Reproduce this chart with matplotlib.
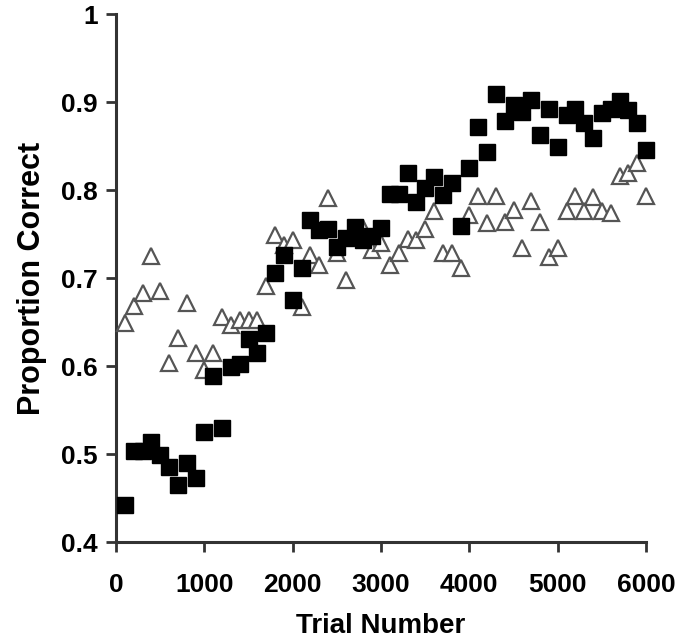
import matplotlib
matplotlib.use("Agg")
import matplotlib.pyplot as plt

plt.rcParams['font.family'] = ['Liberation Sans', 'DejaVu Sans']
plt.rcParams['font.weight'] = 'bold'

trials = list(range(100, 6100, 100))

# filled squares
squares = [0.442, 0.503, 0.503, 0.514, 0.499, 0.485, 0.465, 0.490, 0.473, 0.525,
           0.589, 0.530, 0.599, 0.602, 0.631, 0.615, 0.638, 0.706, 0.726, 0.675,
           0.711, 0.766, 0.755, 0.756, 0.735, 0.745, 0.758, 0.743, 0.748, 0.757,
           0.795, 0.795, 0.819, 0.786, 0.802, 0.815, 0.794, 0.808, 0.759, 0.825,
           0.872, 0.843, 0.909, 0.878, 0.897, 0.889, 0.902, 0.862, 0.892, 0.849,
           0.885, 0.892, 0.876, 0.859, 0.887, 0.892, 0.901, 0.891, 0.876, 0.845]

# open triangles
triangles = [0.649, 0.668, 0.683, 0.725, 0.685, 0.603, 0.632, 0.672, 0.615, 0.595,
             0.615, 0.656, 0.647, 0.652, 0.652, 0.652, 0.691, 0.749, 0.738, 0.743,
             0.667, 0.726, 0.715, 0.791, 0.728, 0.698, 0.752, 0.757, 0.732, 0.740,
             0.715, 0.728, 0.744, 0.743, 0.756, 0.776, 0.728, 0.728, 0.711, 0.772,
             0.793, 0.762, 0.793, 0.764, 0.777, 0.734, 0.787, 0.764, 0.724, 0.734,
             0.776, 0.793, 0.776, 0.792, 0.776, 0.774, 0.816, 0.819, 0.831, 0.793]

xticks = [0, 1000, 2000, 3000, 4000, 5000, 6000]
yticks = [0.4, 0.5, 0.6, 0.7, 0.8, 0.9, 1.0]
ytick_labels = ["0.4", "0.5", "0.6", "0.7", "0.8", "0.9", "1"]

fig = plt.figure(figsize=(6.86, 6.39), dpi=100)
ax = fig.add_axes([116 / 686, 1 - 542 / 639, 530 / 686, 528 / 639])

ax.plot(trials, triangles, linestyle='none', marker='^', markersize=11.5,
        markerfacecolor='white', markeredgecolor='#555555', markeredgewidth=1.6,
        clip_on=False, zorder=3)
ax.plot(trials, squares, linestyle='none', marker='s', markersize=12,
        markerfacecolor='black', markeredgecolor='black', clip_on=False, zorder=4)

ax.set_xlim(0, 6000)
ax.set_ylim(0.4, 1.0)
ax.set_xticks(xticks)
ax.set_xticklabels([str(t) for t in xticks])
ax.set_yticks(yticks)
ax.set_yticklabels(ytick_labels)

for side in ['top', 'right']:
    ax.spines[side].set_visible(False)
for side in ['left', 'bottom']:
    ax.spines[side].set_linewidth(2.2)
    ax.spines[side].set_color('#333333')

ax.tick_params(direction='out', length=7, width=2, color='#333333',
               labelsize=19, pad=6)
ax.tick_params(axis='x', pad=15)
for lab in ax.get_xticklabels() + ax.get_yticklabels():
    lab.set_fontweight('bold')

ax.set_xlabel("Trial Number", fontsize=20, fontweight='bold', labelpad=12)
ax.set_ylabel("Proportion Correct", fontsize=22, fontweight='bold', labelpad=10)

fig.savefig("out.png", dpi=100)
